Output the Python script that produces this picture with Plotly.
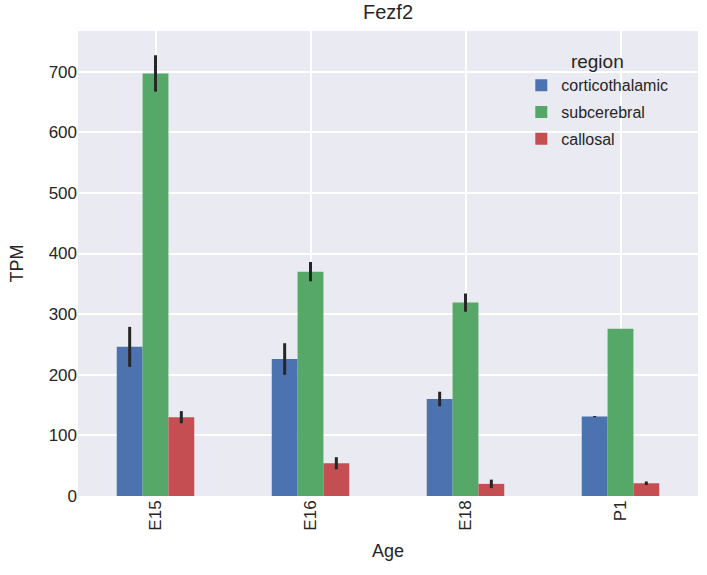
import plotly.graph_objects as go

ages = ["E15", "E16", "E18", "P1"]
regions = ["corticothalamic", "subcerebral", "callosal"]
colors = ["#4C72B0", "#55A868", "#C44E52"]

corticothalamic = [246, 226, 160, 131]
subcerebral = [697, 370, 319, 276]
callosal = [130, 54, 20, 21]

corticothalamic_err = [33, 26, 12, 1]
subcerebral_err = [30, 16, 15, 0]
callosal_err = [10, 10, 7, 3]

values = [corticothalamic, subcerebral, callosal]
errors = [corticothalamic_err, subcerebral_err, callosal_err]

fig = go.Figure()
for name, vals, errs, col in zip(regions, values, errors, colors):
    fig.add_trace(go.Bar(
        x=ages, y=vals, name=name, legendgroup=name,
        marker_color=col, marker_line_width=0,
        error_y=dict(type="data", array=errs, visible=True, width=0,
                     thickness=3, color="#262626"),
    ))

font_family = "Liberation Sans, Arial, sans-serif"
fig.update_layout(
    width=707, height=575,
    margin=dict(l=78, r=9, t=31, b=79),
    paper_bgcolor="white",
    plot_bgcolor="#EAEAF2",
    barmode="group", bargap=0.5, bargroupgap=0,
    font=dict(family=font_family, size=16, color="#262626"),
    title=dict(text="Fezf2", x=0.5, xanchor="center", xref="paper",
               y=1, yref="container", yanchor="top", pad=dict(t=5),
               font=dict(size=20, color="#262626")),
    showlegend=True,
    legend=dict(
        x=0.715, y=0.973, xanchor="left", yanchor="top",
        bgcolor="rgba(0,0,0,0)",
        title=dict(text="region", side="top center", font=dict(size=19)),
        font=dict(size=16), itemsizing="constant",
        tracegroupgap=3,
    ),
    xaxis=dict(
        title=dict(text="Age", font=dict(size=18), standoff=14),
        tickangle=-90, showgrid=True, gridcolor="white", gridwidth=1.5,
        ticks="", tickfont=dict(size=17), zeroline=False, showline=False,
    ),
    yaxis=dict(
        title=dict(text="TPM", font=dict(size=18), standoff=20),
        range=[0, 767], tickvals=[0, 100, 200, 300, 400, 500, 600, 700],
        showgrid=True, gridcolor="white", gridwidth=1.5,
        ticks="", tickfont=dict(size=17), zeroline=False, showline=False,
    ),
)

fig.write_html("out.html")
